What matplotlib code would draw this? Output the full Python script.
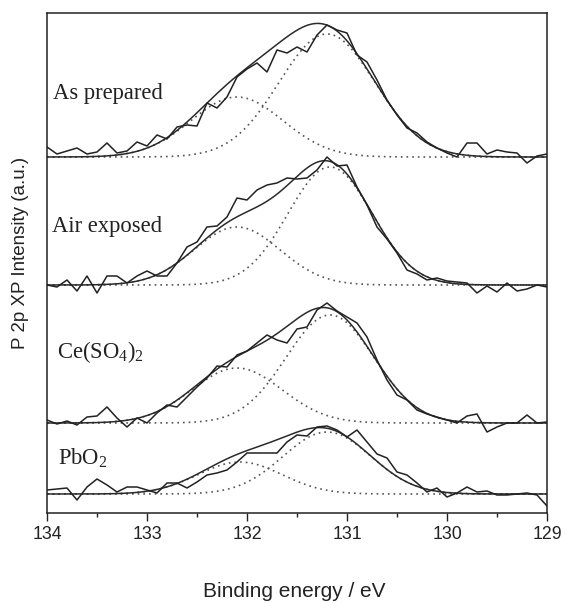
import numpy as np
import matplotlib
matplotlib.use("Agg")
import matplotlib.pyplot as plt
from matplotlib.ticker import MultipleLocator

plt.rcParams['mathtext.fontset'] = 'custom'
plt.rcParams['mathtext.rm'] = 'Liberation Serif'
plt.rcParams['mathtext.it'] = 'Liberation Serif:italic'

# ---- data -------------------------------------------------------------
binding_energy = np.round(np.arange(134.0, 128.95, -0.1), 2)   # 51 points, 0.1 eV step

sample_names = ["As prepared", "Air exposed", r"Ce(SO$_4$)$_2$", r"PbO$_2$"]
offsets = [356, 228, 90, 19]          # vertical stacking offsets (a.u.)

raw_as_prepared = [10, 3, 6, 9, 3, 5, 14, 4, 6, 15, 11, 22, 18, 30, 32, 31, 54, 49, 60, 80,
                   88, 94, 85, 107, 104, 110, 105, 122, 132, 127, 124, 102, 95, 77, 57, 42,
                   29, 24, 15, 9, 4, 0, 14, 14, 3, 7, 5, 4, -6, 1, 3]
raw_air_exposed = [0, -2, 5, -6, 9, -8, 9, 9, 2, 9, 14, 9, 9, 22, 38, 43, 58, 59, 68, 87,
                   85, 95, 100, 102, 107, 106, 107, 115, 128, 119, 120, 98, 80, 58, 46, 32,
                   15, 11, 5, 7, 4, 3, 2, -8, -1, -7, 2, -6, -4, 0, -2]
raw_ce_so4 = [3, -1, 2, -2, 6, 7, 16, 5, -4, 5, 0, 10, 18, 16, 26, 36, 45, 57, 56, 68,
              72, 80, 88, 83, 80, 94, 96, 113, 120, 112, 106, 100, 86, 63, 43, 28,
              23, 13, 9, 6, 3, 0, 7, 9, -9, -4, 0, 0, 8, 0, 1]
raw_pbo2 = [4, 5, 6, -6, 7, 15, 9, 2, 7, 7, 4, 1, 11, 11, 6, 12, 19, 21, 24, 32,
            41, 41, 41, 41, 52, 59, 58, 67, 68, 64, 57, 64, 52, 40, 36, 22,
            19, 11, 2, 6, -3, 1, 7, 2, 3, -1, -1, 0, 1, -1, -12]
raw_spectra = [raw_as_prepared, raw_air_exposed, raw_ce_so4, raw_pbo2]

# fitted components: (centre eV, height, sigma eV)
main_centre = [131.20, 131.17, 131.17, 131.20]
main_height = [123, 118, 108, 62]
main_sigma = [0.48, 0.42, 0.44, 0.44]
second_centre = [132.10, 132.10, 132.10, 132.07]
second_height = [60, 58, 55, 32]
second_sigma = [0.46, 0.43, 0.45, 0.42]

# ---- figure -----------------------------------------------------------
fig = plt.figure(figsize=(5.67, 6.03), dpi=100)
ax = fig.add_axes([47 / 567, (603 - 513) / 603, 500 / 567, 500.5 / 603])

fine_x = np.linspace(134, 129, 501)
label_pos = [(53, 93), (52, 226), (57, 352), (58, 458)]   # pixel positions of labels

def gauss(x, c, h, s):
    return h * np.exp(-(x - c) ** 2 / (2 * s ** 2))

for k in range(4):
    off = offsets[k]
    g1 = gauss(fine_x, main_centre[k], main_height[k], main_sigma[k])
    g2 = gauss(fine_x, second_centre[k], second_height[k], second_sigma[k])
    ax.plot(fine_x, off + g1, color='#555555', lw=1.2, ls=(0, (1, 2.4)))
    ax.plot(fine_x, off + g2, color='#555555', lw=1.2, ls=(0, (1, 2.4)))
    ax.plot(fine_x, off + g1 + g2, color='#2a2a2a', lw=1.1)
    ax.plot(binding_energy, off + np.array(raw_spectra[k]), color='#222222', lw=1.1)

for name, (px, py) in zip(sample_names, label_pos):
    fig.text(px / 567, 1 - py / 603, name, fontsize=16.3, family='Liberation Serif',
             ha='left', va='center', color='#222222')

ax.set_xlim(134, 129)
ax.set_ylim(0, 500.5)
ax.set_yticks([])
ax.xaxis.set_major_locator(MultipleLocator(1))
ax.xaxis.set_minor_locator(MultipleLocator(0.5))
ax.tick_params(axis='x', which='major', direction='out', length=5.5, width=1.0,
               labelsize=12.8, pad=4, colors='#222222')
ax.tick_params(axis='x', which='minor', direction='out', length=3, width=1.0, colors='#222222')
for lab in ax.get_xticklabels():
    lab.set_family('Liberation Sans')
for sp in ax.spines.values():
    sp.set_linewidth(1.1)
    sp.set_color('#222222')

ax.set_xlabel("Binding energy / eV", fontsize=15, family='Liberation Sans', color='#222222')
ax.xaxis.set_label_coords(0.494, -0.137)
ax.set_ylabel("P 2p XP Intensity (a.u.)", fontsize=13.5, family='Liberation Sans', color='#222222')
ax.yaxis.set_label_coords(-0.036, 0.52)

fig.savefig("out.png", dpi=100)
